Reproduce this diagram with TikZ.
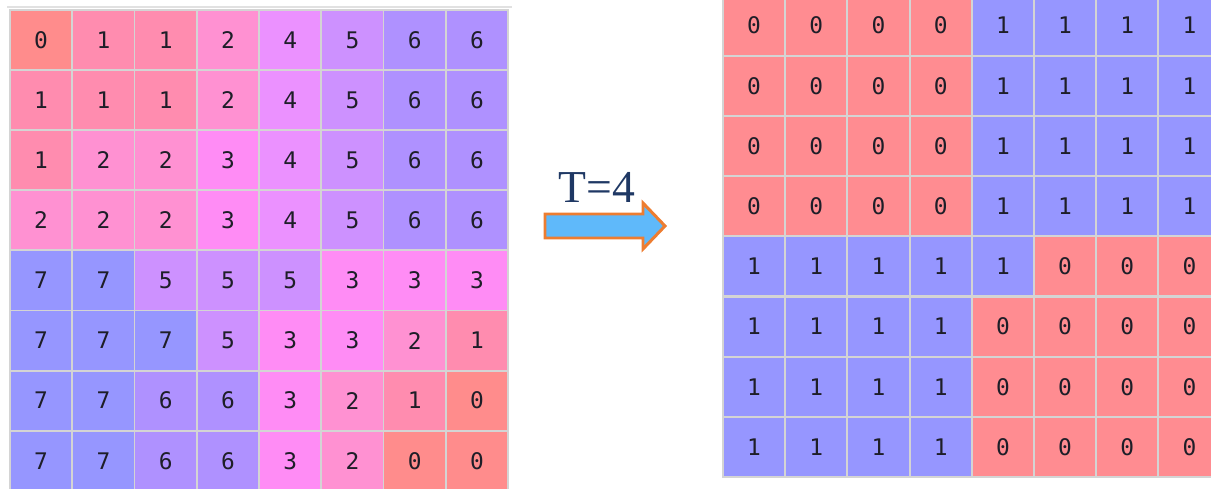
\documentclass[tikz,border=0pt]{standalone}
\usepackage{fontspec}
\usepackage{tikz}
\newfontfamily\cellfont{DejaVu Sans Mono}
\newfontfamily\labelfont{Liberation Serif}
\definecolor{gridgray}{RGB}{212,212,212}
\definecolor{framegray}{RGB}{225,225,225}
\definecolor{digitgray}{RGB}{30,30,40}
\definecolor{v0}{RGB}{255,140,140}
\definecolor{v1}{RGB}{255,140,175}
\definecolor{v2}{RGB}{255,145,210}
\definecolor{v3}{RGB}{255,140,245}
\definecolor{v4}{RGB}{235,145,255}
\definecolor{v5}{RGB}{205,145,255}
\definecolor{v6}{RGB}{175,145,255}
\definecolor{v7}{RGB}{150,150,255}
\definecolor{q0}{RGB}{255,140,145}
\definecolor{q1}{RGB}{150,150,255}
\definecolor{arrowblue}{RGB}{95,185,250}
\definecolor{arroworange}{RGB}{237,125,49}
\definecolor{titlenavy}{RGB}{31,56,100}
\tikzset{
  cell/.style={draw=gridgray, line width=1.1pt, inner sep=0pt, outer sep=0pt,
    minimum width=1.245cm, minimum height=1.202cm,
    font=\cellfont\fontsize{13}{15}\selectfont, text=digitgray},
  bigarrow/.style={draw=arroworange, fill=arrowblue, line width=1.7pt, line join=miter},
}

\begin{document}
\begin{tikzpicture}[x=0.02cm, y=-0.02cm]

% Page size
\useasboundingbox (0,0) rectangle (1211,489);
\clip (0,0) rectangle (1211,489);

% Left frame
\draw[framegray, line width=0.6pt] (7,7) -- (512,7);

% Left grid (before)
\foreach \vals [count=\r] in {
{0,1,1,2,4,5,6,6},
{1,1,1,2,4,5,6,6},
{1,2,2,3,4,5,6,6},
{2,2,2,3,4,5,6,6},
{7,7,5,5,5,3,3,3},
{7,7,7,5,3,3,2,1},
{7,7,6,6,3,2,1,0},
{7,7,6,6,3,2,0,0}}{
\foreach \v [count=\c] in \vals {
\node[cell, fill=v\v] (L-\r-\c) at ({10+(\c-0.5)*62.25},{10+(\r-0.5)*60.1}) {\v};
}
}

% Right grid (after)
\foreach \vals [count=\r] in {
{0,0,0,0,1,1,1,1},
{0,0,0,0,1,1,1,1},
{0,0,0,0,1,1,1,1},
{0,0,0,0,1,1,1,1},
{1,1,1,1,1,0,0,0},
{1,1,1,1,0,0,0,0},
{1,1,1,1,0,0,0,0},
{1,1,1,1,0,0,0,0}}{
\foreach \v [count=\c] in \vals {
\node[cell, fill=q\v] (R-\r-\c) at ({723+(\c-0.5)*62.2},{-4.5+(\r-0.5)*60.2}) {\v};
}
}

% Threshold arrow
\draw[bigarrow] (545,214) -- (643,214) -- (643,203) -- (665,226)
  -- (643,249) -- (643,238) -- (545,238) -- cycle;
\node[font=\labelfont\fontsize{26}{30}\selectfont, text=titlenavy] (threshold) at (597,187) {T=4};

\end{tikzpicture}
\end{document}
